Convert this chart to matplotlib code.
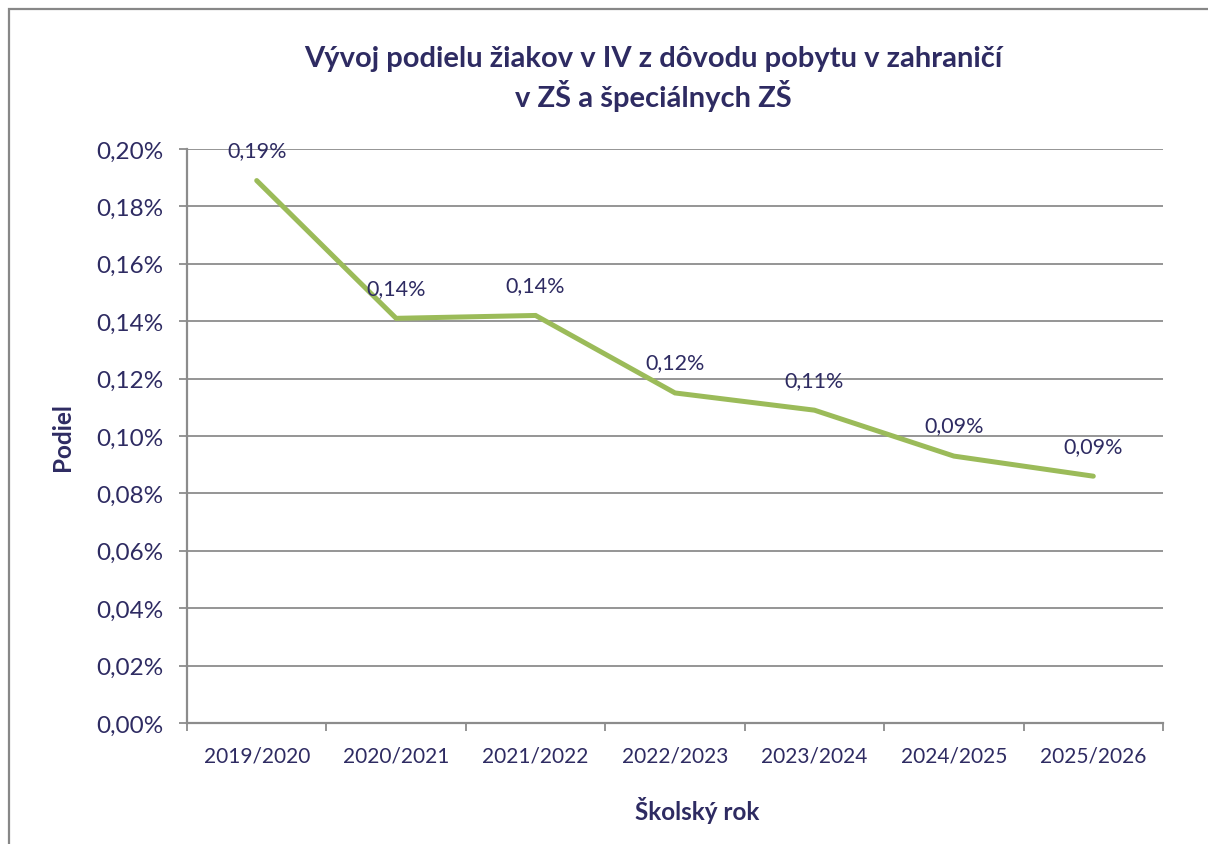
import matplotlib
matplotlib.use("Agg")
import matplotlib.pyplot as plt
from matplotlib.patches import Rectangle
from matplotlib.ticker import MultipleLocator, FuncFormatter

categories = ["2019/2020", "2020/2021", "2021/2022", "2022/2023", "2023/2024", "2024/2025", "2025/2026"]
values = [0.189, 0.141, 0.142, 0.115, 0.109, 0.093, 0.086]
labels = ["0,19%", "0,14%", "0,14%", "0,12%", "0,11%", "0,09%", "0,09%"]

title = "Vývoj podielu žiakov v IV z dôvodu pobytu v zahraničí\nv ZŠ a špeciálnych ZŠ"
xlabel = "Školský rok"
ylabel = "Podiel"

NAVY = "#2E2B62"
GRID = "#8C8C8C"
GREEN = "#9BBB59"

plt.rcParams['font.family'] = ['Lato', 'DejaVu Sans']

fig = plt.figure(figsize=(12.08, 8.45), dpi=100)
fig.patch.set_facecolor("white")

# outer chart border (extends beyond the image on right/bottom)
fig.patches.append(Rectangle((9/1208, -0.1), 1.2, 1 - 10/845 + 0.1, transform=fig.transFigure,
                             fill=False, edgecolor="#878787", linewidth=1.6, zorder=0))

ax = fig.add_axes([187/1208, 1 - 724/845, (1163 - 187)/1208, (724 - 150)/845])
x = list(range(len(categories)))
ax.plot(x, values, color=GREEN, linewidth=3.6, solid_capstyle="round", solid_joinstyle="miter", zorder=3)

for xi, v, lab in zip(x, values, labels):
    ax.annotate(lab, (xi, v), xytext=(0, 22), textcoords="offset points",
                ha="center", va="center", color=NAVY, fontsize=15.5)

ax.set_xlim(-0.5, len(categories) - 0.5)
ax.set_ylim(0, 0.20)
ax.yaxis.set_major_locator(MultipleLocator(0.02))
ax.yaxis.set_major_formatter(FuncFormatter(lambda v, p: f"{v:.2f}%".replace(".", ",")))
ax.set_xticks(x)
ax.set_xticklabels(categories)
ax.set_xticks([i - 0.5 for i in range(len(categories) + 1)], minor=True)
ax.tick_params(axis="x", which="major", length=0, pad=16, labelsize=15, labelcolor=NAVY)
ax.tick_params(axis="x", which="minor", length=6, width=1.3, color=GRID, direction="out")
ax.tick_params(axis="y", length=6, width=1.3, color=GRID, labelsize=17.5, labelcolor=NAVY, pad=11)

ax.grid(axis="y", color=GRID, linewidth=1.3)
ax.set_axisbelow(True)
for s in ["top", "right"]:
    ax.spines[s].set_visible(False)
for s in ["left", "bottom"]:
    ax.spines[s].set_color(GRID)
    ax.spines[s].set_linewidth(1.6)

fig.text(653/1208, 1 - 79/845, title, ha="center", va="center", fontsize=21, fontweight="bold",
         color=NAVY, linespacing=1.3)
fig.text(697/1208, 1 - 811/845, xlabel, ha="center", va="center", fontsize=17.5, fontweight="bold", color=NAVY)
fig.text(62/1208, 1 - 437/845, ylabel, ha="center", va="center", rotation=90, fontsize=17.5,
         fontweight="bold", color=NAVY)

fig.savefig("out.png", dpi=100, facecolor="white")
